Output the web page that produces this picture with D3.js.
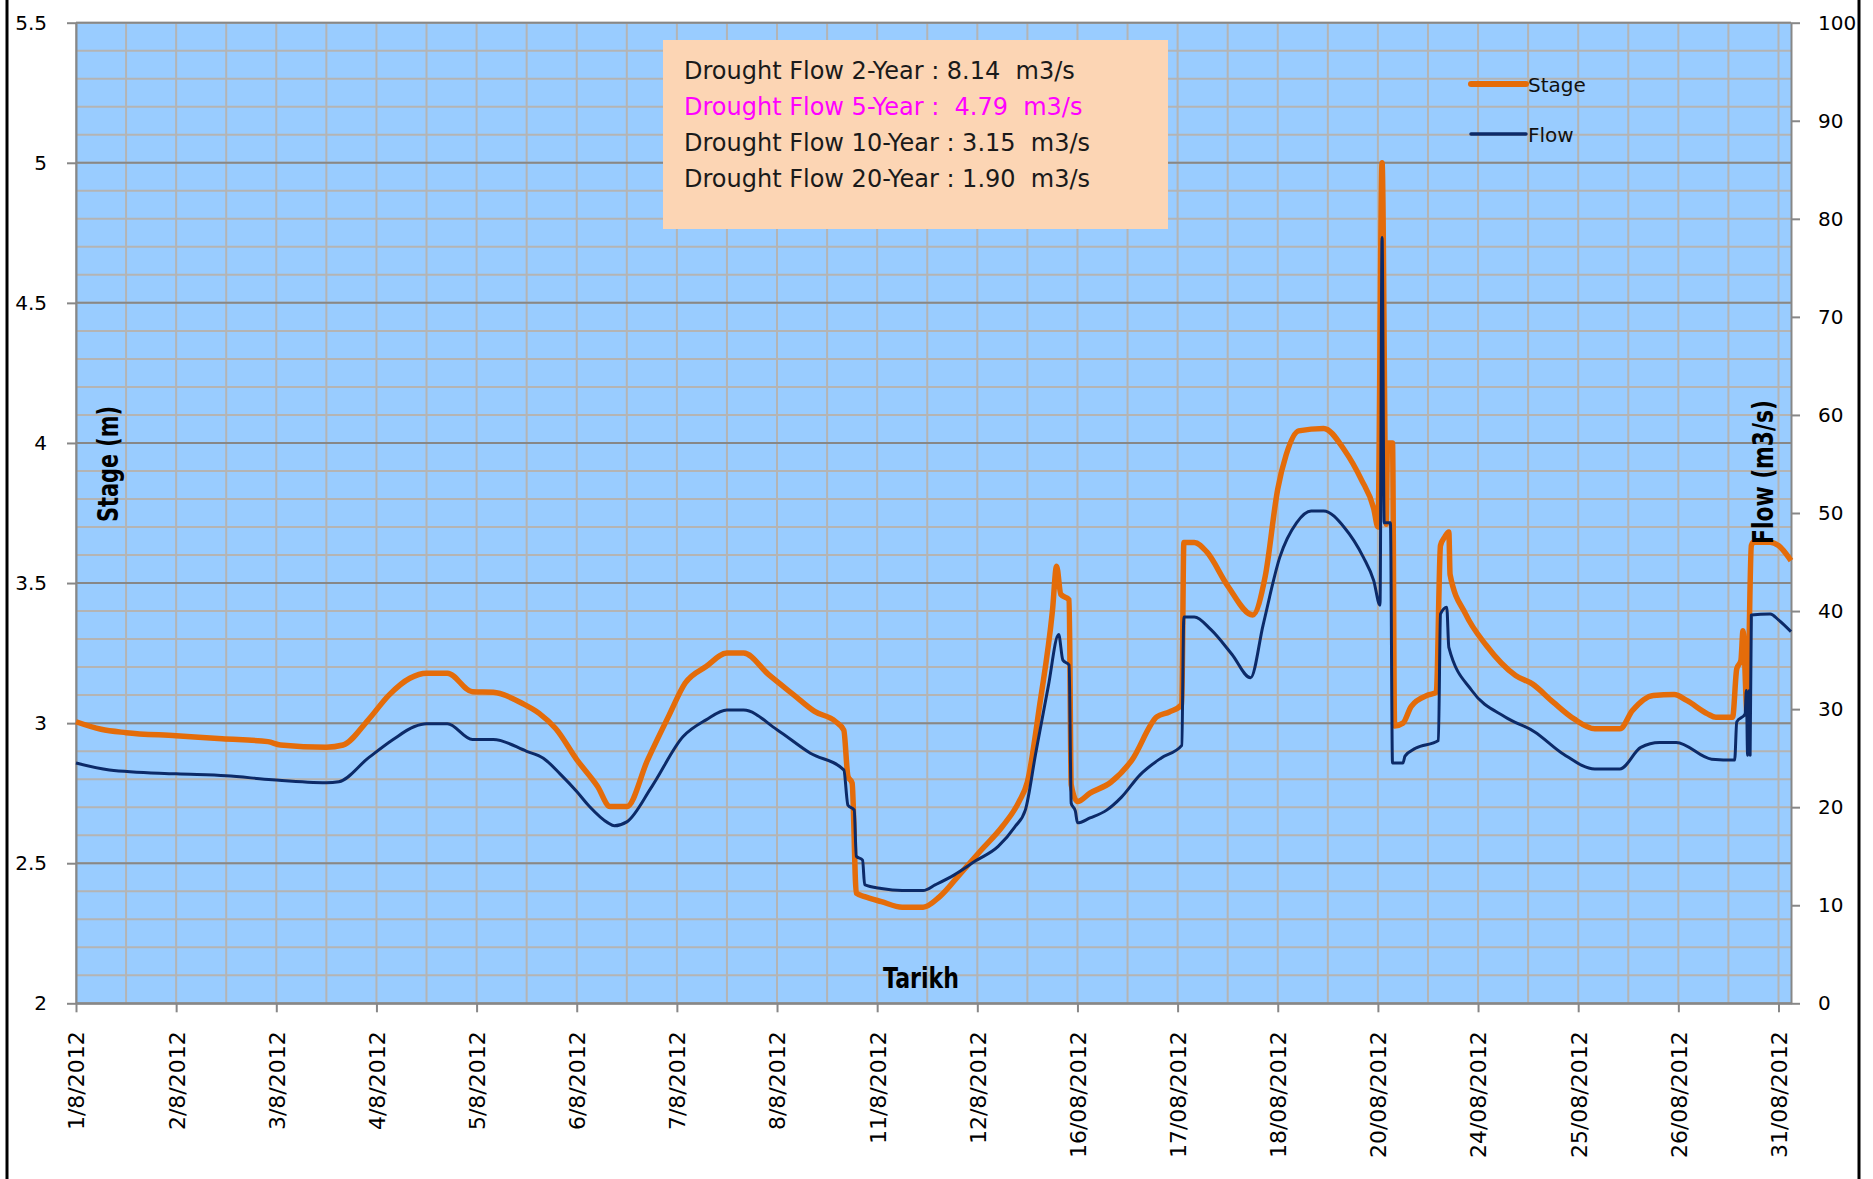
<!DOCTYPE html>
<html>
<head>
<meta charset="utf-8">
<script src="https://cdn.jsdelivr.net/npm/d3@7"></script>
<style>
  body { margin: 0; background: #fff; }
  text { font-family: "DejaVu Sans", sans-serif; }
</style>
</head>
<body>
<div id="chart"></div>
<script>
// category labels, one every 24 samples (hourly readings, gaps in days)
var dateLabels = ['1/8/2012', '2/8/2012', '3/8/2012', '4/8/2012', '5/8/2012', '6/8/2012',
                  '7/8/2012', '8/8/2012', '11/8/2012', '12/8/2012', '16/08/2012', '17/08/2012',
                  '18/08/2012', '20/08/2012', '24/08/2012', '25/08/2012', '26/08/2012', '31/08/2012'];
var hoursPerLabel = 24, lastHour = 411;

var stageTicks = [2, 2.5, 3, 3.5, 4, 4.5, 5, 5.5];
var flowTicks = [0, 10, 20, 30, 40, 50, 60, 70, 80, 90, 100];

// Stage (m)
var stageHour = [0, 6, 12, 24, 35, 46, 49, 60, 64, 70,
                 75, 80, 84, 89, 95, 100, 107, 111, 115, 120,
                 125, 128, 132, 137, 142, 146, 151, 156, 160, 166,
                 172, 177, 182, 184, 185, 186, 187, 189, 193, 198,
                 203, 207, 212, 217, 222, 226, 228, 231, 234, 235,
                 236, 238, 238.5, 240, 243, 248, 253, 259, 262, 265,
                 265.5, 268, 271, 276, 282, 285, 288, 290, 293, 299,
                 304, 308, 311, 312, 313, 314, 314.3, 315.5, 316, 318,
                 320, 324, 326, 327, 328, 329, 329.3, 333, 338, 345,
                 349, 354, 359, 364, 370, 373, 378, 383, 386, 391,
                 393, 397, 398, 399, 399.5, 400.5, 401.5, 402, 406, 408,
                 411];
var stageValue = [3.005, 2.978, 2.966, 2.955, 2.944, 2.934, 2.922, 2.914, 2.922, 3.011,
                  3.10, 3.16, 3.178, 3.178, 3.112, 3.11, 3.07, 3.035, 2.98, 2.87,
                  2.774, 2.702, 2.702, 2.869, 3.024, 3.143, 3.202, 3.25, 3.25, 3.173,
                  3.101, 3.042, 3.006, 2.975, 2.81, 2.786, 2.393, 2.381, 2.363, 2.343,
                  2.343, 2.381, 2.464, 2.548, 2.631, 2.72, 2.79, 3.07, 3.40, 3.56,
                  3.46, 3.44, 2.78, 2.72, 2.75, 2.789, 2.867, 3.022, 3.04, 3.066,
                  3.645, 3.645, 3.611, 3.49, 3.386, 3.524, 3.836, 3.957, 4.043, 4.052,
                  3.974, 3.87, 3.766, 3.70, 5.0, 3.71, 4.0, 4.0, 2.99, 3.0,
                  3.06, 3.10, 3.11, 3.634, 3.664, 3.682, 3.53, 3.39, 3.277, 3.17,
                  3.14, 3.075, 3.015, 2.98, 2.98, 3.045, 3.099, 3.102, 3.081, 3.033,
                  3.021, 3.021, 3.194, 3.224, 3.33, 3.03, 3.634, 3.646, 3.646, 3.634,
                  3.58];

// Flow (m3/s)
var flowHour = [0, 8, 24, 36, 47, 60, 63, 70, 76, 81,
                84, 89, 95, 100, 108, 112, 116, 120, 123, 127.5,
                129, 132, 138, 145.5, 151, 156, 160, 168, 176, 184,
                185, 186.5, 187, 188.5, 189, 193, 198, 203, 206, 210.5,
                215.5, 221, 225, 227.5, 230, 233, 235.5, 236.5, 238, 238.5,
                239.5, 240, 243, 247, 250.5, 255, 260, 265, 265.5, 268,
                272, 277, 281.5, 284.5, 288.5, 292.5, 296, 299, 304, 308.5,
                311, 312.5, 313, 313.5, 315, 315.5, 318, 318.5, 321, 326.5,
                327, 328.5, 329, 334.5, 342.5, 349.5, 356.5, 364, 370, 375,
                379.5, 383.5, 392, 397.5, 398, 400, 400.3, 400.6, 401, 401.2,
                401.5, 406, 408, 411];
var flowValue = [24.5, 23.8, 23.4, 23.2, 22.8, 22.5, 22.6, 25.0, 26.9, 28.2,
                 28.5, 28.5, 26.9, 26.9, 25.7, 25.0, 23.4, 21.6, 20.1, 18.4,
                 18.1, 18.5, 22.1, 27.2, 28.9, 29.9, 29.9, 27.9, 25.5, 23.8,
                 20.2, 19.7, 15.0, 14.6, 12.1, 11.7, 11.5, 11.5, 12.1, 13.1,
                 14.5, 16.0, 18.0, 19.7, 25.5, 32.3, 37.6, 35.0, 34.5, 20.4,
                 19.6, 18.4, 18.9, 19.7, 21.0, 23.3, 25.0, 26.3, 39.4, 39.4,
                 38.1, 35.6, 33.2, 38.6, 45.5, 49.0, 50.2, 50.2, 48.5, 45.5,
                 43.1, 40.6, 78.1, 49.0, 49.0, 24.5, 24.5, 25.2, 26.0, 26.8,
                 39.7, 40.4, 36.3, 31.9, 29.2, 27.7, 25.4, 23.9, 23.9, 26.1,
                 26.6, 26.6, 24.9, 24.8, 28.7, 29.5, 31.9, 25.3, 31.9, 25.3,
                 39.6, 39.7, 39.1, 37.9];

var droughtNotes = ['Drought Flow 2-Year : 8.14  m3/s',
                    'Drought Flow 5-Year :  4.79  m3/s',
                    'Drought Flow 10-Year : 3.15  m3/s',
                    'Drought Flow 20-Year : 1.90  m3/s'];
var highlightNote = 1;

var width = 1873,
    height = 1179,
    plotLeft = 76, plotRight = 1791, plotTop = 22.7, plotBottom = 1003.3,
    chart = d3.select('#chart').append('svg')
              .attr('width', width)
              .attr('height', height);

var x = d3.scaleLinear().domain([0, lastHour]).range([plotLeft, plotRight]);
var yStage = d3.scaleLinear().domain([2, 5.5]).range([plotBottom, plotTop]);
var yFlow = d3.scaleLinear().domain([0, 100]).range([plotBottom, plotTop]);

// plot area
chart.append('rect')
  .attr('x', plotLeft).attr('y', plotTop)
  .attr('width', plotRight - plotLeft).attr('height', plotBottom - plotTop)
  .attr('fill', '#99ccff');

// gridlines
var minorY = d3.range(0, 36).map(function(i) { return 2 + i / 10; });
chart.append('g').selectAll('line')
  .data(minorY)
  .enter().append('line')
  .attr('x1', plotLeft).attr('x2', plotRight)
  .attr('y1', function(d) { return yStage(d); })
  .attr('y2', function(d) { return yStage(d); })
  .attr('stroke', '#b4b4b4')
  .attr('stroke-width', 2);

chart.append('g').selectAll('line')
  .data(d3.range(0, lastHour, hoursPerLabel / 2))
  .enter().append('line')
  .attr('x1', function(d) { return x(d); })
  .attr('x2', function(d) { return x(d); })
  .attr('y1', plotTop).attr('y2', plotBottom)
  .attr('stroke', '#b4b4b4')
  .attr('stroke-width', 2);

chart.append('g').selectAll('line')
  .data(stageTicks)
  .enter().append('line')
  .attr('x1', plotLeft).attr('x2', plotRight)
  .attr('y1', function(d) { return yStage(d); })
  .attr('y2', function(d) { return yStage(d); })
  .attr('stroke', '#878787')
  .attr('stroke-width', 2);

// axes
function styleAxis(g) {
  g.selectAll('.domain').attr('stroke', '#878787').attr('stroke-width', 2);
  g.selectAll('.tick line').attr('stroke', '#878787').attr('stroke-width', 2);
  g.selectAll('text').attr('fill', '#000').attr('font-family', 'DejaVu Sans');
}

var leftAxis = chart.append('g')
  .attr('transform', 'translate(' + plotLeft + ',0)')
  .call(d3.axisLeft(yStage).tickValues(stageTicks).tickFormat(d3.format('')).tickSize(9).tickSizeOuter(0).tickPadding(20));
leftAxis.selectAll('text').attr('font-size', 20);
styleAxis(leftAxis);

var rightAxis = chart.append('g')
  .attr('transform', 'translate(' + plotRight + ',0)')
  .call(d3.axisRight(yFlow).tickValues(flowTicks).tickSize(9).tickSizeOuter(0).tickPadding(18));
rightAxis.selectAll('text').attr('font-size', 20);
styleAxis(rightAxis);

var bottomAxis = chart.append('g')
  .attr('transform', 'translate(0,' + plotBottom + ')')
  .call(d3.axisBottom(x)
    .tickValues(dateLabels.map(function(d, i) { return i * hoursPerLabel; }))
    .tickFormat(function(d, i) { return dateLabels[i]; })
    .tickSize(9).tickSizeOuter(0));
bottomAxis.selectAll('text')
  .attr('font-size', 22)
  .attr('text-anchor', 'end')
  .attr('transform', 'rotate(-90)')
  .attr('x', -28)
  .attr('y', 0)
  .attr('dy', '0.36em');
styleAxis(bottomAxis);

// series
var stageLine = d3.line()
  .curve(d3.curveMonotoneX)
  .x(function(d) { return x(d[0]); })
  .y(function(d) { return yStage(d[1]); });
var flowLine = d3.line()
  .curve(d3.curveMonotoneX)
  .x(function(d) { return x(d[0]); })
  .y(function(d) { return yFlow(d[1]); });

chart.append('path')
  .datum(d3.zip(stageHour, stageValue))
  .attr('d', stageLine)
  .attr('fill', 'none')
  .attr('stroke', '#e46c0a')
  .attr('stroke-width', 5.5)
  .attr('stroke-linejoin', 'round');

chart.append('path')
  .datum(d3.zip(flowHour, flowValue))
  .attr('d', flowLine)
  .attr('fill', 'none')
  .attr('stroke', '#0c2a68')
  .attr('stroke-width', 3)
  .attr('stroke-linejoin', 'round');

// drought flow box
chart.append('rect')
  .attr('x', 663).attr('y', 40)
  .attr('width', 505).attr('height', 189)
  .attr('fill', '#fcd5b4');

chart.append('g').selectAll('text')
  .data(droughtNotes)
  .enter().append('text')
  .attr('x', 684)
  .attr('y', function(d, i) { return 79 + i * 36; })
  .attr('xml:space', 'preserve')
  .style('white-space', 'pre')
  .attr('font-family', 'Lato')
  .attr('font-size', 24)
  .attr('fill', function(d, i) { return i === highlightNote ? '#ff00ff' : '#1a1a1a'; })
  .text(function(d) { return d; });

// legend
var legend = [{name: 'Stage', color: '#e46c0a', w: 6, y: 84},
              {name: 'Flow', color: '#0c2a68', w: 3.5, y: 134}];
var lg = chart.append('g').selectAll('g')
  .data(legend)
  .enter().append('g');
lg.append('line')
  .attr('x1', 1471).attr('x2', 1526)
  .attr('y1', function(d) { return d.y; })
  .attr('y2', function(d) { return d.y; })
  .attr('stroke', function(d) { return d.color; })
  .attr('stroke-width', function(d) { return d.w; })
  .attr('stroke-linecap', 'round');
lg.append('text')
  .attr('x', 1528)
  .attr('y', function(d) { return d.y + 8; })
  .attr('font-size', 20)
  .attr('fill', '#111')
  .text(function(d) { return d.name; });

// axis titles
var titleFont = '"Liberation Sans Narrow", "Liberation Sans", Arial, sans-serif';
chart.append('text')
  .attr('transform', 'translate(118,464) rotate(-90)')
  .attr('text-anchor', 'middle')
  .attr('font-family', titleFont)
  .attr('font-weight', 'bold')
  .attr('font-size', 29)
  .attr('textLength', 116)
  .attr('lengthAdjust', 'spacingAndGlyphs')
  .text('Stage (m)');

chart.append('text')
  .attr('transform', 'translate(1773,472) rotate(-90)')
  .attr('text-anchor', 'middle')
  .attr('font-family', titleFont)
  .attr('font-weight', 'bold')
  .attr('font-size', 29)
  .attr('textLength', 144)
  .attr('lengthAdjust', 'spacingAndGlyphs')
  .text('Flow (m3/s)');

chart.append('text')
  .attr('x', 921).attr('y', 988)
  .attr('text-anchor', 'middle')
  .attr('font-family', titleFont)
  .attr('font-weight', 'bold')
  .attr('font-size', 29)
  .attr('textLength', 76)
  .attr('lengthAdjust', 'spacingAndGlyphs')
  .text('Tarikh');

// chart border
chart.append('rect')
  .attr('x', 7).attr('y', -5)
  .attr('width', 1852).attr('height', height + 10)
  .attr('fill', 'none')
  .attr('stroke', '#000')
  .attr('stroke-width', 3);
</script>
</body>
</html>
